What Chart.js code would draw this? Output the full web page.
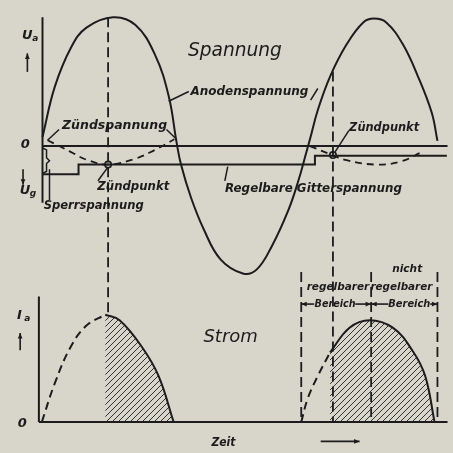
<!DOCTYPE html>
<html><head><meta charset="utf-8">
<script src="https://cdn.jsdelivr.net/npm/chart.js@4.4.1/dist/chart.umd.min.js"></script>
<style>html,body{margin:0;padding:0;background:#d8d5ca;}#wrap{width:453px;height:453px;}</style>
</head><body><div id="wrap"><canvas id="c" width="453" height="453"></canvas></div>
<script>
// x: time in electrical degrees; U: voltage in % of anode peak; I: current in % of peak
const anodeT = [-7, 10, 33, 54, 91, 122, 149, 168, 179, 185, 199, 217, 240, 271, 290, 311, 334, 348, 359, 364, 375, 392, 415, 438, 453, 470, 493, 514, 533, 541];
const anodeU = [7, 46, 77, 92, 100, 94, 71, 39, 3, -14, -40, -65, -88, -99, -96, -78, -50, -27, -5, 5, 28, 54, 79, 96, 99, 96, 79, 54, 26, 4];
const zuend1T = [0, 32, 54, 84, 122, 149, 176];
const zuend1U = [4.5, -4.5, -10.6, -14.4, -9.8, -3, 5.3];
const zuend2T = [364, 395, 415, 456, 490, 520];
const zuend2U = [0, -7, -11, -14.4, -12, -4.5];
const gitterT = [-7, 43, 43, 371, 371, 554];
const gitterU = [-22, -22, -14.4, -14.4, -7.6, -7.6];
const strom1DashT = [-8, 10, 32, 54, 80];
const strom1DashI = [0, 36, 70, 90, 100];
const strom1T = [80, 100, 131, 154, 175];
const strom1I = [100, 95, 70, 43, 0];
const strom2DashT = [352, 361, 375, 392];
const strom2DashI = [0, 22, 43, 65];
const strom2T = [392, 419, 447, 479, 506, 524, 537];
const strom2I = [65, 88, 95, 88, 67, 43, 0];
const zuendpunktT = [84, 396];
const zuendpunktU = [-14.4, -7];
const bereichT = [352, 449, 541];
const labelTexts = ['Spannung', 'Anodenspannung', 'Zündspannung', 'Zündpunkt', 'Sperrspannung',
  'Regelbare Gitterspannung', 'Zündpunkt', 'Strom', 'nicht', 'regelbarer', 'regelbarer', 'Bereich', 'Bereich', 'Zeit'];

const INK = '#1c1c1c';
const BG = '#d8d5ca';
const pts = (xs, ys) => xs.map((x, i) => ({x, y: ys[i]}));
function line(data, o = {}) {
  return Object.assign({data, showLine: true, borderColor: INK, borderWidth: 2, pointRadius: 0,
    fill: false, tension: 0, yAxisID: 'y', clip: false}, o);
}
function hatch() {
  const c = document.createElement('canvas'); c.width = 6; c.height = 6;
  const g = c.getContext('2d'); g.strokeStyle = '#333'; g.lineWidth = 1;
  g.beginPath();
  g.moveTo(0, 6); g.lineTo(6, 0); g.moveTo(-3, 3); g.lineTo(3, -3); g.moveTo(3, 9); g.lineTo(9, 3);
  g.stroke();
  return g.createPattern(c, 'repeat');
}
const pat = hatch();
const DASH = [10, 5];
const SMOOTH = 0.4;

const datasets = [
  line(pts([-7, -7], [100, -44])),                 // voltage axis
  line(pts([-7, 555], [0, 0])),                    // zero line
  line(pts(gitterT, gitterU)),                     // grid voltage
  line(pts(anodeT, anodeU), {tension: SMOOTH}),
  line(pts(zuend1T, zuend1U), {borderDash: [7, 5], borderWidth: 1.8, tension: SMOOTH}),
  line(pts(zuend2T, zuend2U), {borderDash: [7, 5], borderWidth: 1.8, tension: SMOOTH}),
  line(pts([84, 84], [100, -131]), {borderDash: DASH, borderWidth: 1.8}),
  line(pts([396, 396], [58, -214]), {borderDash: DASH, borderWidth: 1.8}),
  // brace + leaders
  line(pts([-7, -1.4, -1.4, 2.7, -1.4, -1.4, -7], [-1.5, -3, -9.1, -11.4, -13.6, -19.7, -21.2]), {borderWidth: 1.5}),
  line(pts([2.7, 2.7], [-18, -42]), {borderWidth: 1.5}),
  line(pts([196, 168], [42.4, 34.8]), {borderWidth: 1.5}),
  line(pts([365, 375], [35.6, 44.7]), {borderWidth: 1.5}),
  line(pts([165, 179], [12.9, 5.3]), {borderWidth: 1.5}),
  line(pts([16, 0], [12.9, 4.5]), {borderWidth: 1.5}),
  line(pts([70, 83], [-27, -17]), {borderWidth: 1.5}),
  line(pts([418, 399], [12, -4.5]), {borderWidth: 1.5}),
  line(pts([250, 246], [-16, -27]), {borderWidth: 1.5}),
  // ignition points
  {data: pts(zuendpunktT, zuendpunktU), showLine: false, pointRadius: 3.2, pointBorderWidth: 1.6,
    pointBackgroundColor: BG, pointBorderColor: INK, yAxisID: 'y', clip: false},
  // current panel
  line(pts([-12, -12], [117, 0]), {yAxisID: 'y2'}),
  line(pts([-12, 555], [0, 0]), {yAxisID: 'y2'}),
  line(pts(strom1T, strom1I), {yAxisID: 'y2', fill: 'origin', backgroundColor: pat, tension: SMOOTH}),
  line(pts(strom1DashT, strom1DashI), {yAxisID: 'y2', borderDash: [8, 5], tension: SMOOTH}),
  line(pts(strom2T, strom2I), {yAxisID: 'y2', fill: 'origin', backgroundColor: pat, tension: SMOOTH}),
  line(pts(strom2DashT, strom2DashI), {yAxisID: 'y2', borderDash: [8, 5], tension: SMOOTH}),
];
bereichT.forEach(t => datasets.push(line(pts([t, t], [140, 0]), {yAxisID: 'y2', borderDash: DASH, borderWidth: 1.8})));

// label placement: [text index, axis, x, y, font, maxWidth]
const B = 'bold italic ';
const labelPos = [
  [0, 'y', 260, 74, 'italic 19px "DejaVu Sans"', 94],
  [1, 'y', 280, 41.7, B + '12px "DejaVu Sans"', 126],
  [2, 'y', 93, 16, B + '12.5px "DejaVu Sans"', 105],
  [3, 'y', 119, -32, B + '12.5px "DejaVu Sans"', 72],
  [4, 'y', 64, -46, B + '12.5px "DejaVu Sans"', 100],
  [5, 'y', 369, -33, B + '12.5px "DejaVu Sans"', 177],
  [6, 'y', 467, 14, B + '12.5px "DejaVu Sans"', 70],
  [7, 'y2', 254, 79, 'italic 18px "DejaVu Sans"', 62],
  [8, 'y2', 499, 143, B + '11px "DejaVu Sans"', 30],
  [9, 'y2', 403, 126, B + '10.5px "DejaVu Sans"', 66],
  [10, 'y2', 491, 126, B + '10.5px "DejaVu Sans"', 62],
  [11, 'y2', 399, 110, B + '10.5px "DejaVu Sans"', 41],
  [12, 'y2', 502, 110, B + '10.5px "DejaVu Sans"', 42],
  [13, 'y2', 244, -19, B + '13px "DejaVu Sans"', 24],
];
// axis symbols: [main, sub, axis, x, y]
const axisSyms = [['U', 'a', 'y', -24, 86], ['U', 'g', 'y', -27, -35], ['I', 'a', 'y2', -35, 99], ['0', '', 'y', -31, 1], ['0', '', 'y2', -35, -1]];
// arrows: [axis, x1, y1, x2, y2]
const arrows = [
  ['y', -28, 57.6, -28, 72], ['y', -34, -18, -34, -30], ['y2', -38, 67, -38, 83],
  ['y2', 379, -18, 433, -18],
  ['y2', 370, 110, 352, 110], ['y2', 427, 110, 449, 110],
  ['y2', 473, 110, 449, 110], ['y2', 531, 110, 541, 110],
];

const annot = {
  id: 'annot',
  afterDatasetsDraw(chart) {
    const ctx = chart.ctx, X = chart.scales.x;
    ctx.save();
    ctx.fillStyle = INK; ctx.strokeStyle = INK;
    ctx.textAlign = 'center'; ctx.textBaseline = 'middle';
    labelPos.forEach(([i, ax, x, y, font, w]) => {
      ctx.font = font;
      ctx.fillText(labelTexts[i], X.getPixelForValue(x), chart.scales[ax].getPixelForValue(y), w);
    });
    axisSyms.forEach(([m, s, ax, x, y]) => {
      const px = X.getPixelForValue(x), py = chart.scales[ax].getPixelForValue(y);
      ctx.font = 'bold italic 13px "DejaVu Sans"';
      ctx.textAlign = 'center';
      ctx.fillText(m, px - (s ? 3 : 0), py);
      if (s) { ctx.font = 'bold italic 9px "DejaVu Sans"'; ctx.fillText(s, px + 5, py + 3); }
    });
    arrows.forEach(([ax, x1, y1, x2, y2]) => {
      const S = chart.scales[ax];
      const a = X.getPixelForValue(x1), b = S.getPixelForValue(y1), c = X.getPixelForValue(x2), d = S.getPixelForValue(y2);
      ctx.lineWidth = 1.6;
      ctx.beginPath(); ctx.moveTo(a, b); ctx.lineTo(c, d); ctx.stroke();
      const ang = Math.atan2(d - b, c - a), L = 6;
      ctx.beginPath(); ctx.moveTo(c, d);
      ctx.lineTo(c - L * Math.cos(ang - 0.4), d - L * Math.sin(ang - 0.4));
      ctx.lineTo(c - L * Math.cos(ang + 0.4), d - L * Math.sin(ang + 0.4));
      ctx.closePath(); ctx.fill();
    });
    ctx.restore();
  }
};

new Chart(document.getElementById('c'), {
  type: 'scatter',
  data: {datasets},
  options: {
    responsive: false, animation: false, devicePixelRatio: 1,
    layout: {padding: 0},
    plugins: {legend: {display: false}, tooltip: {enabled: false}},
    scales: {
      x: {type: 'linear', min: -58.2, max: 554.8, display: false},
      y: {type: 'linear', min: -234.1, max: 109.1, display: false},
      y2: {type: 'linear', min: -23.6, max: 388.2, display: false}
    }
  },
  plugins: [annot]
});
</script></body></html>
